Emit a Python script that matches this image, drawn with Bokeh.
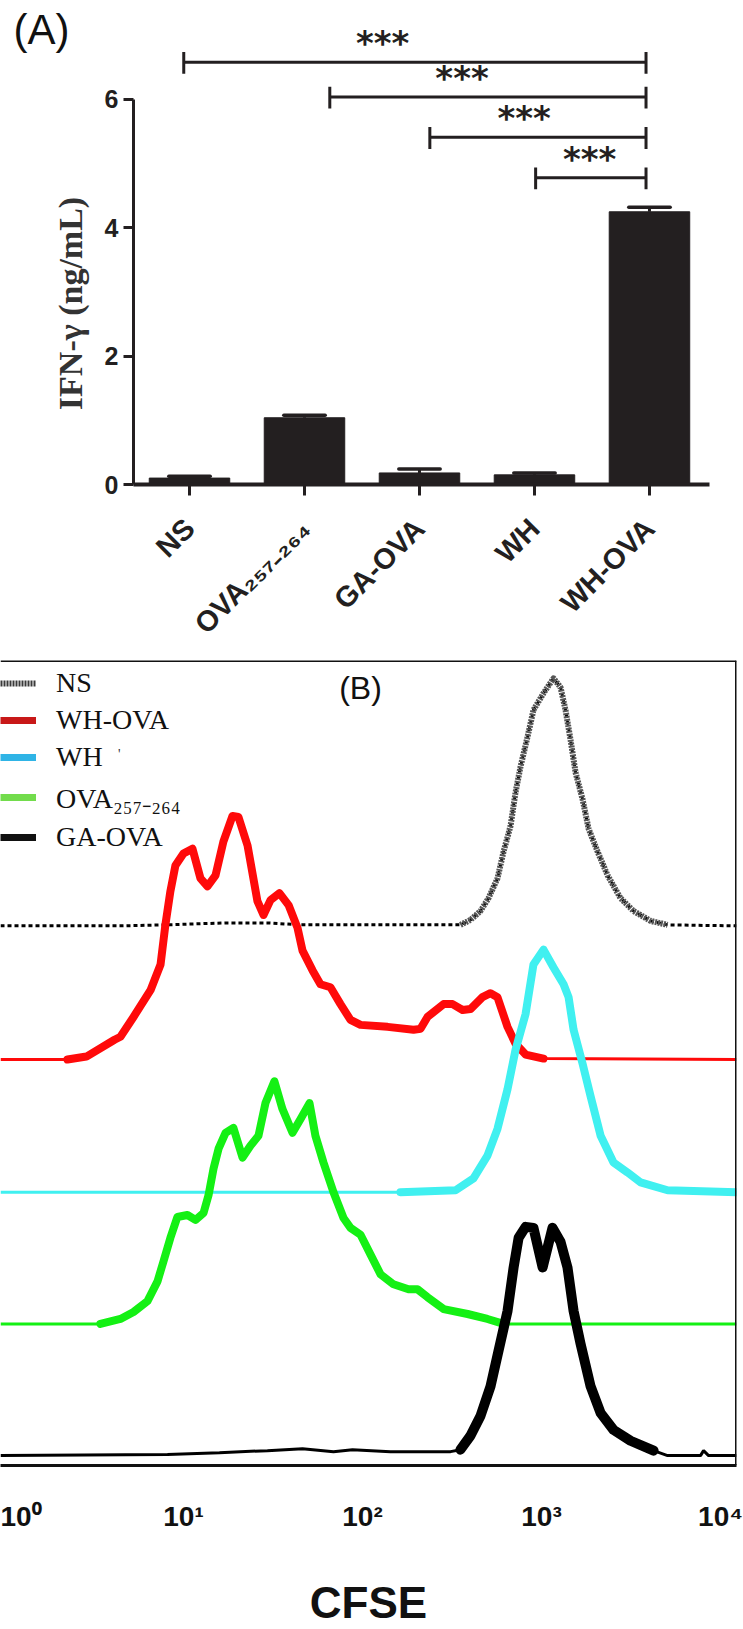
import math
from bokeh.plotting import figure
from bokeh.models import Range1d, FixedTicker, Span, Label, Legend, LegendItem, Title
from bokeh.layouts import column
from bokeh.embed import file_html
from bokeh.resources import INLINE
from bokeh.core.properties import value

# ---------------- Panel A data ----------------
groups = ["NS", "OVA₂₅₇₋₂₆₄", "GA-OVA", "WH", "WH-OVA"]
ifn_mean = [0.10, 1.04, 0.18, 0.15, 4.25]
ifn_sem = [0.03, 0.04, 0.06, 0.03, 0.07]
y_ticks = [0, 2, 4, 6]
# significance brackets (x in group-index units, y in ng/mL)
sig_start = [-0.05, 1.22, 2.09, 3.01]
sig_end = [3.97, 3.97, 3.97, 3.97]
sig_level = [6.58, 6.04, 5.41, 4.78]
sig_star_x = [1.68, 2.37, 2.91, 3.48]
sig_text = ["***", "***", "***", "***"]

# ---------------- Panel B data (log10 CFSE, cell counts) ----------------
series_names = ["NS", "WH-OVA", "WH", "OVA₂₅₇₋₂₆₄", "GA-OVA"]
ns_log = [-0.022, 0.648, 0.899, 1.235, 1.469, 1.654, 2.547, 2.603, 2.659, 2.704,
          2.754, 2.788, 2.827, 2.855, 2.883, 2.922, 2.955, 3.011, 3.067, 3.106,
          3.134, 3.162, 3.190, 3.229, 3.263, 3.313, 3.369, 3.441, 3.514, 3.609,
          3.704, 4.089]
ns_cnt = [0, 0, 1, 3, 3, 1, 1, 6, 15, 28,
          48, 75, 101, 135, 161, 191, 218, 235, 250, 241,
          218, 188, 155, 128, 98, 75, 51, 28, 15, 5,
          1, 0]
whova_log = [-0.022, 0.352, 0.458, 0.615, 0.648, 0.721, 0.816, 0.872, 0.899, 0.927,
             0.955, 1.000, 1.050, 1.095, 1.134, 1.179, 1.223, 1.274, 1.307, 1.358,
             1.413, 1.447, 1.486, 1.536, 1.587, 1.637, 1.665, 1.721, 1.765, 1.821,
             1.877, 1.933, 1.989, 2.140, 2.285, 2.324, 2.363, 2.453, 2.503, 2.559,
             2.603, 2.670, 2.715, 2.754, 2.810, 2.855, 2.911, 3.011, 4.089]
whova_cnt = [0, 0, 3, 20, 23, 43, 70, 96, 136, 170,
             196, 208, 213, 183, 175, 186, 220, 246, 245, 216,
             160, 146, 161, 168, 156, 133, 110, 90, 76, 73,
             56, 40, 35, 33, 30, 31, 43, 56, 56, 50,
             51, 63, 67, 63, 33, 16, 5, 1, 0]
wh_log = [-0.022, 2.212, 2.520, 2.620, 2.698, 2.754, 2.810, 2.855, 2.911, 2.955,
          3.011, 3.067, 3.123, 3.151, 3.179, 3.229, 3.274, 3.330, 3.402, 3.480,
          3.553, 3.704, 4.089]
wh_cnt = [0, 0, 2, 14, 37, 64, 104, 144, 180, 230,
          245, 227, 210, 197, 164, 130, 97, 57, 30, 20,
          10, 2, 0]
ova_log = [-0.022, 0.536, 0.648, 0.721, 0.799, 0.855, 0.888, 0.927, 0.966, 1.022,
           1.067, 1.112, 1.140, 1.168, 1.196, 1.235, 1.279, 1.330, 1.374, 1.419,
           1.458, 1.508, 1.553, 1.609, 1.654, 1.704, 1.737, 1.782, 1.838, 1.894,
           1.933, 1.989, 2.045, 2.101, 2.173, 2.257, 2.307, 2.363, 2.453, 2.587,
           2.698, 2.788, 4.089]
ova_cnt = [0, 0, 5, 12, 23, 43, 63, 87, 108, 110,
           105, 112, 130, 157, 177, 193, 198, 168, 180, 190,
           223, 245, 217, 193, 207, 223, 190, 163, 133, 107,
           97, 90, 70, 50, 40, 35, 35, 27, 15, 10,
           5, 0, 0]
gaova_log = [-0.022, 0.911, 1.201, 1.469, 1.665, 1.838, 1.944, 2.156, 2.492, 2.547,
             2.603, 2.659, 2.715, 2.760, 2.810, 2.844, 2.872, 2.911, 2.955, 3.006,
             3.061, 3.106, 3.145, 3.179, 3.218, 3.274, 3.330, 3.402, 3.497, 3.626,
             3.704, 3.888, 3.905, 3.933, 4.089]
gaova_cnt = [0, 1, 3, 5, 7, 4, 6, 4, 4, 6,
             20, 40, 70, 106, 146, 190, 220, 231, 230, 190,
             230, 216, 190, 146, 113, 70, 43, 26, 15, 5,
             0, 0, 5, 0, 0]
x_tick_vals = [1, 10, 100, 1000, 10000]
x_tick_text = ["10⁰", "10¹", "10²", "10³", "10⁴"]

INK = "#231f20"

# ======================= Panel A =======================
pA = figure(width=743, height=658, x_range=Range1d(-0.487, 4.522), y_range=Range1d(0, 7.231),
            output_backend="svg", toolbar_location=None, title=None,
            min_border_left=133, min_border_right=34, min_border_top=20, min_border_bottom=174)
pA.frame_align = False
pA.outline_line_color = None
pA.grid.visible = False

xs = list(range(len(groups)))
pA.vbar(x=xs, top=ifn_mean, width=0.70, fill_color=INK, line_color=INK)
upper = [m + s for m, s in zip(ifn_mean, ifn_sem)]
pA.segment(x0=xs, y0=ifn_mean, x1=xs, y1=upper, line_width=3, line_color=INK)
pA.segment(x0=[x - 0.18 for x in xs], y0=upper, x1=[x + 0.18 for x in xs], y1=upper,
           line_width=3.5, line_color=INK, line_cap="round")

# brackets
pA.segment(x0=sig_start, y0=sig_level, x1=sig_end, y1=sig_level, line_width=3, line_color=INK)
pA.segment(x0=sig_start, y0=[v - 0.18 for v in sig_level], x1=sig_start, y1=[v + 0.16 for v in sig_level],
           line_width=3, line_color=INK)
pA.segment(x0=sig_end, y0=[v - 0.18 for v in sig_level], x1=sig_end, y1=[v + 0.16 for v in sig_level],
           line_width=3, line_color=INK)
pA.text(x=sig_star_x, y=sig_level, text=sig_text, text_align="center", text_baseline="alphabetic",
        y_offset=-19, text_font=value("DejaVu Sans"), text_font_style="bold", text_font_size="34px",
        text_color=INK)

ya = pA.yaxis[0]
ya.ticker = FixedTicker(ticks=y_ticks)
ya.bounds = (0, 6)
ya.axis_line_width = 3
ya.axis_line_color = INK
ya.major_tick_line_width = 3
ya.major_tick_line_color = INK
ya.major_tick_out = 10
ya.major_tick_in = 0
ya.minor_tick_line_color = None
ya.major_label_text_font = "Liberation Sans"
ya.major_label_text_font_style = "bold"
ya.major_label_text_font_size = "25px"
ya.major_label_text_color = INK
ya.major_label_standoff = 5
ya.axis_label = "IFN-γ (ng/mL)" + "\u00a0" * 12
ya.axis_label_text_font = "Liberation Serif"
ya.axis_label_text_font_style = "bold"
ya.axis_label_text_font_size = "34px"
ya.axis_label_text_color = "#333333"
ya.axis_label_standoff = 13

xa = pA.xaxis[0]
xa.ticker = FixedTicker(ticks=xs)
xa.major_label_overrides = {i: g for i, g in enumerate(groups)}
xa.major_label_orientation = math.pi / 4
xa.axis_line_width = 4
xa.axis_line_color = INK
xa.major_tick_line_width = 3
xa.major_tick_line_color = INK
xa.major_tick_out = 11
xa.major_tick_in = 0
xa.minor_tick_line_color = None
xa.major_label_text_font = "Liberation Sans"
xa.major_label_text_font_style = "bold"
xa.major_label_text_font_size = "29px"
xa.major_label_text_color = INK
xa.major_label_standoff = 28

pA.add_layout(Title(text="(A)", align="left", offset=-120, standoff=-64,
                    text_font="Liberation Sans", text_font_size="42px",
                    text_font_style="normal", text_color="#111111"), "above")

# ======================= Panel B =======================
pB = figure(width=743, height=971, x_axis_type="log",
            x_range=Range1d(10 ** -0.022, 10 ** 4.089), y_range=Range1d(0, 813),
            output_backend="svg", toolbar_location=None, title=None, y_axis_location=None,
            min_border_left=0, min_border_right=7, min_border_top=2, min_border_bottom=156)
pB.frame_align = False
pB.outline_line_color = None
pB.grid.visible = False

offsets = {"NS": 545, "WH-OVA": 410, "WH": 276, "OVA₂₅₇₋₂₆₄": 143, "GA-OVA": 10}
curves = [
    ("NS", ns_log, ns_cnt),
    ("WH-OVA", whova_log, whova_cnt),
    ("WH", wh_log, wh_cnt),
    ("OVA₂₅₇₋₂₆₄", ova_log, ova_cnt),
    ("GA-OVA", gaova_log, gaova_cnt),
]
colors = {"NS": "#111111", "WH-OVA": "#ff0a0a", "WH": "#40f0f0",
          "OVA₂₅₇₋₂₆₄": "#14f014", "GA-OVA": "#000000"}
thick = {"NS": 6, "WH-OVA": 8, "WH": 8, "OVA₂₅₇₋₂₆₄": 8, "GA-OVA": 10}
thresh = {"NS": 5, "WH-OVA": 2, "WH": 2, "OVA₂₅₇₋₂₆₄": 3, "GA-OVA": 10}

for name, lg, cnt in curves:
    xv = [10 ** v for v in lg]
    yv = [offsets[name] + c for c in cnt]
    idx = [i for i, c in enumerate(cnt) if c >= thresh[name]]
    i0, i1 = max(idx[0] - 1, 0), min(idx[-1] + 2, len(cnt))
    if name == "NS":
        pB.line(xv, yv, line_color="#000000", line_width=3, line_dash="4 3")
        pB.line(xv[i0:i1], yv[i0:i1], line_color="#555555", line_width=thick[name],
                line_dash="2 1", line_join="round")
    else:
        pB.line(xv, yv, line_color=colors[name], line_width=3)
        pB.line(xv[i0:i1], yv[i0:i1], line_color=colors[name], line_width=thick[name],
                line_join="round", line_cap="round")

# legend with swatch colours as in the figure (proxy renderers hold no visible data)
legend_colors = {"NS": "#3a3a3a", "WH-OVA": "#c81818", "WH": "#2fb4e6",
                 "OVA₂₅₇₋₂₆₄": "#72dc4c", "GA-OVA": "#111111"}
nan = float("nan")
items = []
for name in series_names:
    if name == "NS":
        r = pB.line([nan], [nan], line_color=legend_colors[name], line_width=6, line_dash="2 1")
    else:
        r = pB.line([nan], [nan], line_color=legend_colors[name], line_width=7)
    items.append(LegendItem(label=name, renderers=[r]))
leg = Legend(items=items, location=(0, 612), padding=3, margin=0, spacing=5,
             glyph_width=36, glyph_height=30, label_height=30, label_standoff=20,
             label_text_font="Liberation Serif", label_text_font_size="28px",
             label_text_color="#111111", border_line_color=None, background_fill_alpha=0)
pB.add_layout(leg)

# frame borders (top and right; the left edge is cut off in the original)
pB.add_layout(Span(location=813, dimension="width", line_color="#111111", line_width=3))
pB.add_layout(Span(location=10 ** 4.089, dimension="height", line_color="#111111", line_width=3))

pB.add_layout(Label(x=10 ** 1.989, y=785, text="(B)", text_align="center", text_baseline="middle",
                    text_font="Liberation Sans", text_font_size="32px", text_color="#111111"))
pB.add_layout(Label(x=10 ** 0.641, y=718, text="'", text_align="center", text_baseline="middle",
                    text_font="Liberation Serif", text_font_size="14px", text_color="#333333"))

xb = pB.xaxis[0]
xb.ticker = FixedTicker(ticks=x_tick_vals)
xb.major_label_overrides = {v: t for v, t in zip(x_tick_vals, x_tick_text)}
xb.axis_line_width = 3
xb.axis_line_color = "#111111"
xb.major_tick_line_color = None
xb.minor_tick_line_color = None
xb.major_label_text_font = "Liberation Sans"
xb.major_label_text_font_style = "bold"
xb.major_label_text_font_size = "28px"
xb.major_label_text_color = "#111111"
xb.major_label_standoff = 29
xb.axis_label = "CFSE"
xb.axis_label_text_font = "Liberation Sans"
xb.axis_label_text_font_style = "bold"
xb.axis_label_text_font_size = "44px"
xb.axis_label_text_color = "#111111"
xb.axis_label_standoff = 43

layout = column(pA, pB)
open("out.html", "w").write(file_html(layout, INLINE))
